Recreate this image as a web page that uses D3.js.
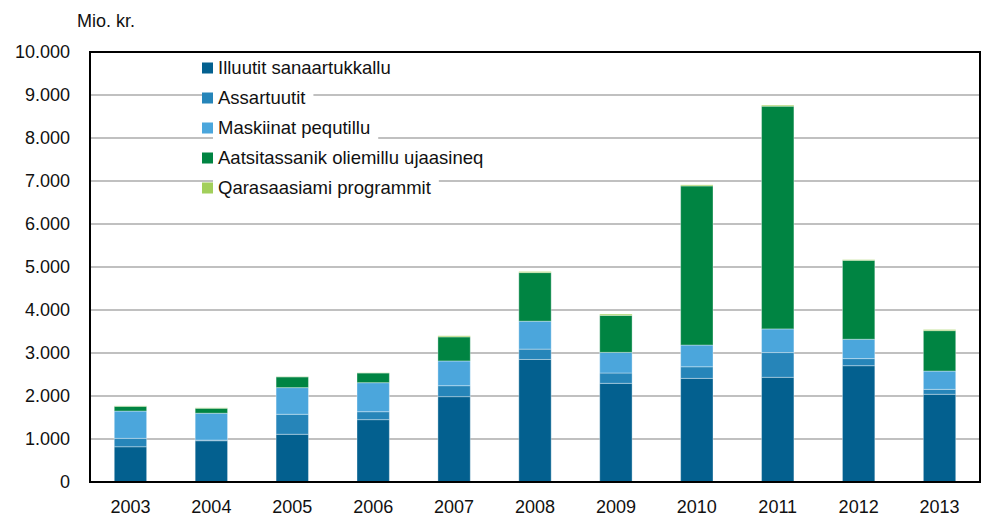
<!DOCTYPE html>
<html>
<head>
<meta charset="utf-8">
<script src="https://cdn.jsdelivr.net/npm/d3@7"></script>
<style>
  body { margin: 0; background: #fff; }
  svg { font-family: "Liberation Sans", Arial, sans-serif; }
</style>
</head>
<body>
<div id="chart"></div>
<script>
// values in mio. kr.
const years = ["2003", "2004", "2005", "2006", "2007", "2008", "2009", "2010", "2011", "2012", "2013"];
const seriesNames = ["Illuutit sanaartukkallu", "Assartuutit", "Maskiinat pequtillu", "Aatsitassanik oliemillu ujaasineq", "Qarasaasiami programmit"];
const illuutit   = [820, 960, 1110, 1450, 1985, 2850, 2295, 2410, 2435, 2705, 2040];
const assartuutit = [195, 15, 465, 185, 255, 240, 240, 270, 575, 165, 115];
const maskiinat  = [635, 625, 620, 675, 575, 650, 480, 505, 550, 450, 425];
const aatsitassat = [110, 115, 250, 225, 560, 1130, 860, 3700, 5180, 1835, 940];
const qarasaasiat = [10, 10, 5, 5, 25, 25, 30, 25, 25, 15, 25];
const yTicks = [0, 1000, 2000, 3000, 4000, 5000, 6000, 7000, 8000, 9000, 10000];
const colors = ["#03608f", "#2685b9", "#4ba6dc", "#008442", "#a2cf5b"];

const W = 987, H = 520;
const margin = { top: 52, right: 7, bottom: 38, left: 90 };

const rows = years.map((y, i) => ({
  year: y,
  s0: illuutit[i], s1: assartuutit[i], s2: maskiinat[i], s3: aatsitassat[i], s4: qarasaasiat[i]
}));
const keys = ["s0", "s1", "s2", "s3", "s4"];
const stacked = d3.stack().keys(keys)(rows);

const x = d3.scaleBand()
  .domain(years)
  .range([margin.left, W - margin.right])
  .paddingInner(0.6)
  .paddingOuter(0.3);
const y = d3.scaleLinear()
  .domain([0, 10000])
  .range([H - margin.bottom, margin.top]);

const fmt = d => d3.format(",")(d).replace(/,/g, ".");

const svg = d3.select("#chart").append("svg")
  .attr("width", W)
  .attr("height", H);

// gridlines
svg.append("g")
  .selectAll("line")
  .data(yTicks.slice(1, -1))
  .join("line")
    .attr("x1", margin.left)
    .attr("x2", W - margin.right)
    .attr("y1", d => y(d))
    .attr("y2", d => y(d))
    .attr("stroke", "#ababab")
    .attr("stroke-width", 1.5);

// bars
svg.append("g")
  .selectAll("g")
  .data(stacked)
  .join("g")
    .attr("fill", (d, i) => colors[i])
  .selectAll("rect")
  .data(d => d)
  .join("rect")
    .attr("x", d => x(d.data.year))
    .attr("width", x.bandwidth())
    .attr("y", d => y(d[1]))
    .attr("height", d => y(d[0]) - y(d[1]))
    .attr("stroke", "#ffffff")
    .attr("stroke-opacity", 0.35)
    .attr("stroke-width", 1);

// frame
svg.append("rect")
  .attr("x", margin.left)
  .attr("y", margin.top)
  .attr("width", W - margin.left - margin.right)
  .attr("height", H - margin.top - margin.bottom)
  .attr("fill", "none")
  .attr("stroke", "#000")
  .attr("stroke-width", 2);

// y axis
const yAxis = svg.append("g")
  .attr("transform", `translate(${margin.left},0)`)
  .call(d3.axisLeft(y).tickValues(yTicks).tickFormat(fmt).tickSize(0).tickPadding(20));
yAxis.select(".domain").remove();
yAxis.selectAll("text")
  .attr("font-size", 18)
  .attr("fill", "#111")
  .style("font-family", "inherit");

// x axis
const xAxis = svg.append("g")
  .attr("transform", `translate(0,${H - margin.bottom})`)
  .call(d3.axisBottom(x).tickSize(0).tickPadding(18));
xAxis.select(".domain").remove();
xAxis.selectAll("text")
  .attr("font-size", 18)
  .attr("fill", "#111")
  .style("font-family", "inherit");

svg.append("text")
  .attr("x", 77)
  .attr("y", 27)
  .attr("font-size", 18)
  .attr("fill", "#111")
  .text("Mio. kr.");

// legend, each item on its own white patch over the grid
const legend = svg.append("g").attr("transform", "translate(202,68)");
const item = legend.selectAll("g")
  .data(seriesNames)
  .join("g")
    .attr("transform", (d, i) => `translate(0,${i * 30})`);
item.append("rect")
  .attr("class", "bg")
  .attr("fill", "#fff");
item.append("rect")
  .attr("x", 0)
  .attr("y", -5.5)
  .attr("width", 11)
  .attr("height", 11)
  .attr("fill", (d, i) => colors[i]);
item.append("text")
  .attr("x", 16)
  .attr("dy", "0.35em")
  .attr("font-size", 18.5)
  .attr("fill", "#111")
  .text(d => d);
item.each(function() {
  const t = d3.select(this).select("text").node().getBBox();
  d3.select(this).select(".bg")
    .attr("x", 11)
    .attr("y", -12)
    .attr("width", t.x + t.width + 8 - 11)
    .attr("height", 24);
});
</script>
</body>
</html>
